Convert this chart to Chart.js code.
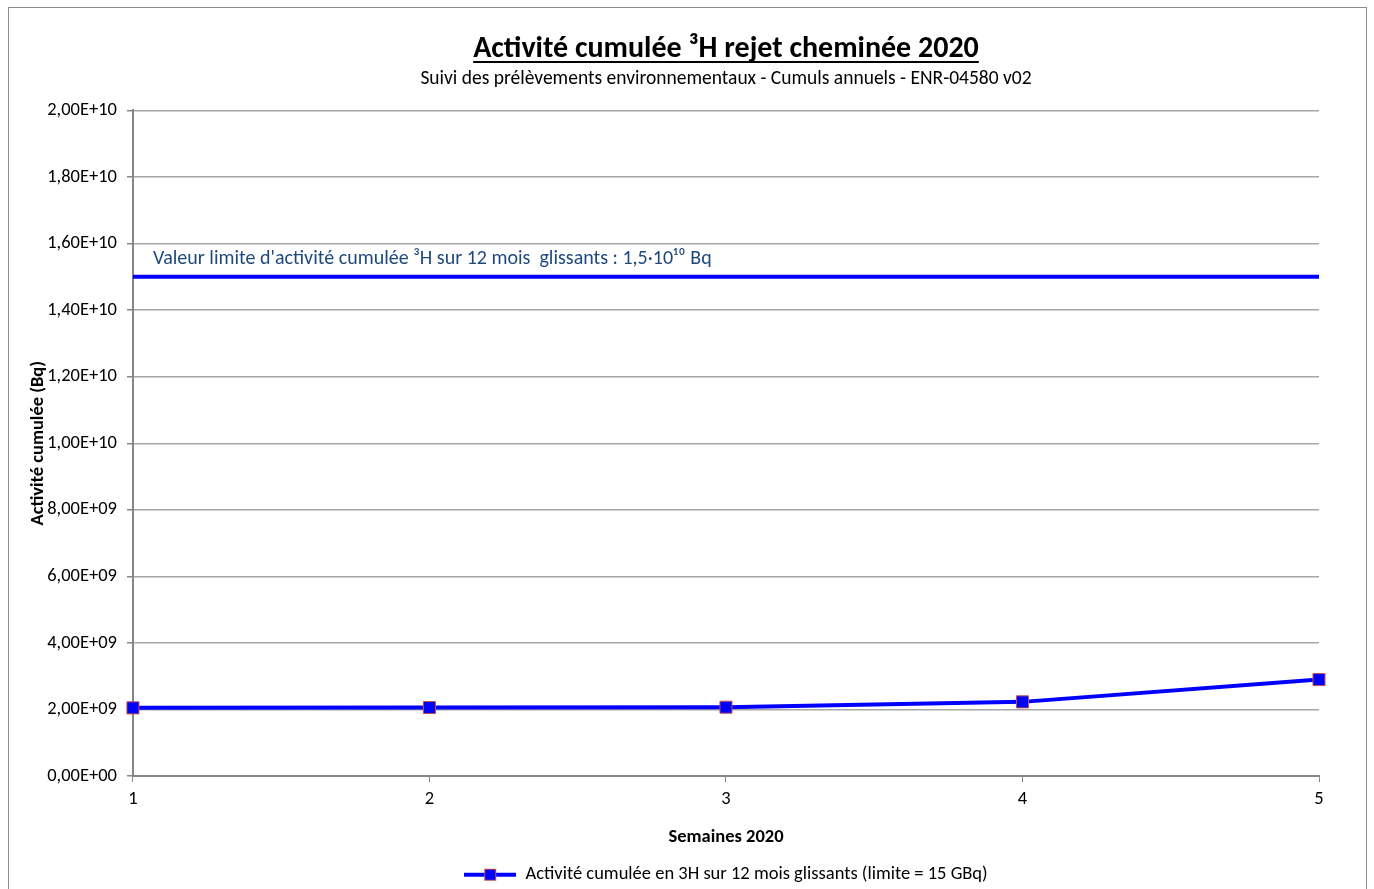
<!DOCTYPE html>
<html>
<head>
<meta charset="utf-8">
<script src="https://cdn.jsdelivr.net/npm/chart.js@4.4.1/dist/chart.umd.min.js"></script>
<style>
  body { margin: 0; background: #fff; }
  #wrap { width: 1374px; height: 889px; position: relative; }
</style>
</head>
<body>
<div id="wrap"><canvas id="myChart" width="1374" height="889"></canvas></div>
<script>
const weeks = ['1', '2', '3', '4', '5'];
const cumul = [2.05e9, 2.06e9, 2.07e9, 2.23e9, 2.9e9];
const limit = [1.5e10, 1.5e10, 1.5e10, 1.5e10, 1.5e10];
const limitText = "Valeur limite d'activité cumulée \u00B3H sur 12 mois  glissants : 1,5\u00B710\u00B9\u2070 Bq";

const font = "Carlito, 'Noto Sans', sans-serif";
const titleSize = 30;

// y tick format like excel: 2,00E+10
function sci(v) {
    let s = Number(v).toExponential(2).split('e');
    let exp = parseInt(s[1], 10);
    let sign = exp < 0 ? '-' : '+';
    exp = Math.abs(exp);
    return s[0].replace('.', ',') + 'E' + sign + (exp < 10 ? '0' + exp : exp);
}

// legend icon: line + square marker
const icon = document.createElement('canvas');
icon.width = 52; icon.height = 14;
(function () {
    const c = icon.getContext('2d');
    c.strokeStyle = '#0000FF';
    c.lineWidth = 4;
    c.beginPath(); c.moveTo(0, 7); c.lineTo(52, 7); c.stroke();
    c.fillStyle = '#0000FF';
    c.fillRect(20, 1, 12, 12);
    c.strokeStyle = '#C0504D';
    c.lineWidth = 1;
    c.strokeRect(20.5, 1.5, 11, 11);
})();

const extras = {
    id: 'extras',
    afterDraw(chart) {
        const ctx = chart.ctx;
        const y = chart.scales.y;
        ctx.save();
        // frame
        ctx.strokeStyle = '#8C8C8C';
        ctx.lineWidth = 1;
        ctx.strokeRect(8.5, 7.5, 1358, 900);
        // underline of title
        const t = chart.titleBlock;
        ctx.font = 'bold ' + titleSize + 'px ' + font;
        const w = ctx.measureText(chart.options.plugins.title.text).width;
        const cx = (t.left + t.right) / 2;
        const ty = (t.top + t.bottom) / 2;
        ctx.strokeStyle = '#000';
        ctx.lineWidth = 2;
        ctx.beginPath();
        ctx.moveTo(cx - w / 2, ty + 13);
        ctx.lineTo(cx + w / 2, ty + 13);
        ctx.stroke();
        // limit label
        ctx.font = '20px ' + font;
        ctx.fillStyle = '#1F497D';
        ctx.textBaseline = 'middle';
        ctx.fillText(limitText, chart.chartArea.left + 20, y.getPixelForValue(limit[0]) - 18);
        ctx.restore();
    }
};

new Chart(document.getElementById('myChart'), {
    type: 'line',
    data: {
        labels: weeks,
        datasets: [{
            label: 'Activité cumulée en 3H sur 12 mois glissants (limite = 15 GBq)',
            data: cumul,
            borderColor: '#0000FF',
            backgroundColor: '#0000FF',
            borderWidth: 4,
            tension: 0,
            pointStyle: 'rect',
            pointRadius: 8.5,
            pointHoverRadius: 8.5,
            pointBackgroundColor: '#0000FF',
            pointBorderColor: '#C0504D',
            pointBorderWidth: 1,
            order: 1
        }, {
            label: 'limite',
            data: limit,
            borderColor: '#0000FF',
            borderWidth: 4,
            pointRadius: 0,
            tension: 0,
            order: 2
        }]
    },
    options: {
        responsive: false,
        animation: false,
        layout: { padding: { left: 25, right: 55, top: 31, bottom: -5 } },
        plugins: {
            title: {
                display: true,
                fullSize: false,
                text: 'Activité cumulée \u00B3H rejet cheminée 2020',
                color: '#000',
                font: { family: font, size: titleSize, weight: 'bold' },
                padding: { top: 0, bottom: 0 }
            },
            subtitle: {
                display: true,
                fullSize: false,
                text: 'Suivi des prélèvements environnementaux - Cumuls annuels - ENR-04580 v02',
                color: '#000',
                font: { family: font, size: 19.5 },
                padding: { top: 0, bottom: 20 }
            },
            legend: {
                position: 'bottom',
                fullSize: false,
                labels: {
                    color: '#000',
                    font: { family: font, size: 18.5 },
                    usePointStyle: true,
                    pointStyleWidth: 52,
                    padding: 8,
                    filter: (item) => item.datasetIndex === 0,
                    generateLabels(chart) {
                        const items = Chart.defaults.plugins.legend.labels.generateLabels(chart);
                        items.forEach(it => { it.pointStyle = icon; });
                        return items;
                    }
                }
            },
            tooltip: { enabled: false }
        },
        scales: {
            x: {
                offset: false,
                grid: { drawOnChartArea: false, drawTicks: true, tickLength: 6, color: '#868686', tickColor: '#868686' },
                border: { color: '#868686', width: 2 },
                ticks: { color: '#000', font: { family: font, size: 18.5 }, padding: 6, maxRotation: 0 },
                title: {
                    display: true,
                    text: 'Semaines 2020',
                    color: '#000',
                    font: { family: font, size: 18.5, weight: 'bold' },
                    padding: { top: 10, bottom: 9 }
                }
            },
            y: {
                min: 0,
                max: 2e10,
                ticks: {
                    stepSize: 2e9,
                    color: '#000',
                    font: { family: font, size: 18.5 },
                    padding: 10,
                    callback: (v) => sci(v)
                },
                grid: { color: '#A6A6A6', lineWidth: 1.5, tickLength: 6, tickColor: '#868686' },
                border: { color: '#868686', width: 2 },
                title: {
                    display: true,
                    text: 'Activité cumulée (Bq)',
                    color: '#000',
                    font: { family: font, size: 18.5, weight: 'bold' },
                    padding: { top: 2, bottom: -12 }
                }
            }
        }
    },
    plugins: [extras]
});
</script>
</body>
</html>
